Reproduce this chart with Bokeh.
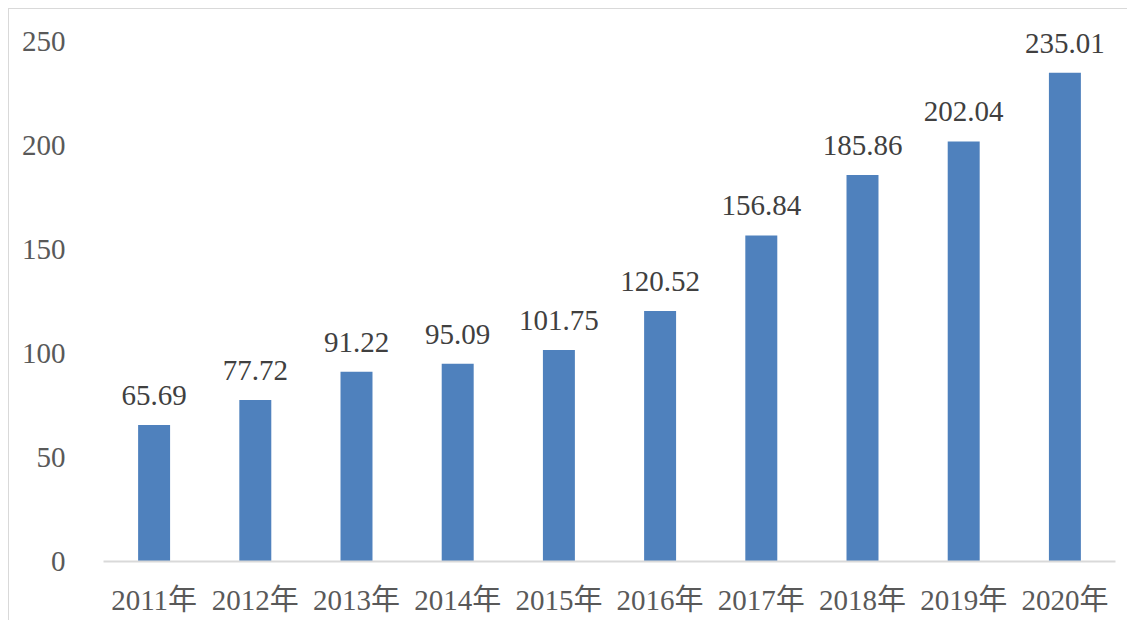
from bokeh.plotting import figure
from bokeh.models import ColumnDataSource, Range1d, FixedTicker, LabelSet
from bokeh.embed import file_html
from bokeh.resources import INLINE

years = ["2011年", "2012年", "2013年", "2014年", "2015年",
         "2016年", "2017年", "2018年", "2019年", "2020年"]
values = [65.69, 77.72, 91.22, 95.09, 101.75, 120.52, 156.84, 185.86, 202.04, 235.01]
labels = [f"{v:.2f}" for v in values]
y_ticks = [0, 50, 100, 150, 200, 250]

FONT = "'Liberation Serif', 'Times New Roman', 'Noto Sans CJK SC', serif"

src = ColumnDataSource(dict(x=years, top=values, label=labels))

p = figure(x_range=years, y_range=Range1d(0, 265), width=1119, height=612,
           output_backend="svg", toolbar_location=None,
           min_border_left=94, min_border_right=13, min_border_top=1, min_border_bottom=60)
p.styles = {"margin-left": "8px", "margin-top": "8px",
            "border-left": "1px solid #d9d9d9", "border-top": "1px solid #d9d9d9"}

p.vbar(x="x", top="top", width=0.316, source=src, color="#4F81BD", line_color=None)

p.add_layout(LabelSet(x="x", y="top", text="label", source=src, text_align="center",
                      text_baseline="bottom", y_offset=20, text_font_size="29px",
                      text_font=FONT, text_color="#404040"))

p.outline_line_color = None
p.grid.grid_line_color = None
p.background_fill_color = "white"
p.border_fill_color = "white"

p.yaxis.ticker = FixedTicker(ticks=y_ticks)
p.yaxis.axis_line_color = None
p.yaxis.major_tick_line_color = None
p.yaxis.minor_tick_line_color = None
p.yaxis.major_label_standoff = 32
p.yaxis.major_label_text_font_size = "29px"
p.yaxis.major_label_text_font = FONT
p.yaxis.major_label_text_color = "#595959"

p.xaxis.axis_line_color = "#D9D9D9"
p.xaxis.axis_line_width = 2
p.xaxis.major_tick_line_color = None
p.xaxis.minor_tick_line_color = None
p.xaxis.major_label_standoff = 16
p.xaxis.major_label_text_font_size = "29px"
p.xaxis.major_label_text_font = FONT
p.xaxis.major_label_text_color = "#595959"

open("out.html", "w").write(file_html(p, INLINE))
